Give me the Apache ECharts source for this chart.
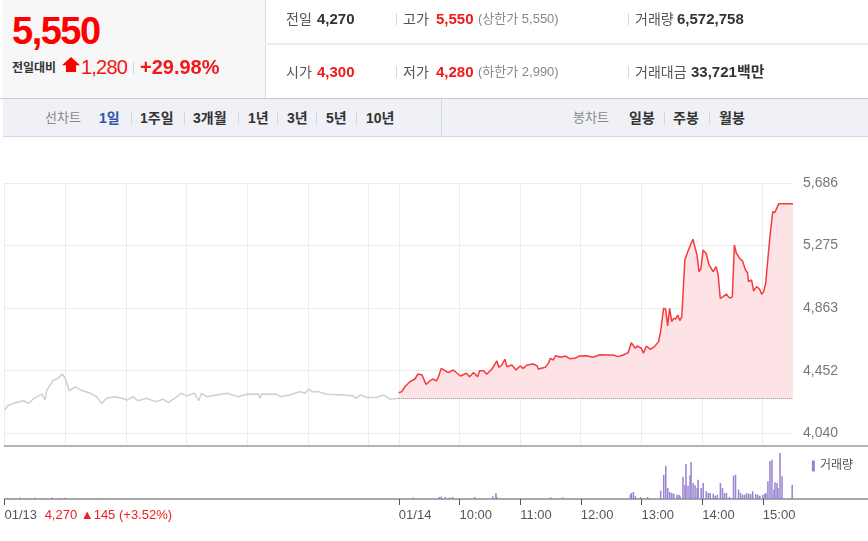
<!DOCTYPE html>
<html>
<head>
<meta charset="utf-8">
<script src="https://cdn.jsdelivr.net/npm/echarts@6/dist/echarts.min.js"></script>
<style>
  body { margin: 0; width: 868px; height: 541px; overflow: hidden; background: #fff;
         font-family: "Liberation Sans", "Noto Sans CJK KR", sans-serif; }
  #chart { position: absolute; left: 0; top: 0; width: 868px; height: 541px; }
  .t { position: absolute; white-space: nowrap; line-height: 20px; }
  .lab { font-size: 14px; color: #555; }
  .val { font-size: 15px; font-weight: bold; color: #333; }
  .red { color: #f01818; }
  .sub { font-size: 13px; color: #888; }
  .sep { position: absolute; width: 1px; background: #d6d6d6; }
  .tab { font-size: 14px; font-weight: bold; color: #333; top: 108px; }
  .tabg { font-size: 13px; color: #888; top: 108px; }
</style>
</head>
<body>
<div id="chart"></div>

<!-- 상단 시세 -->
<div style="position:absolute;left:3px;top:0;width:262px;height:98px;background:#f7f7f7;border-right:1px solid #dcdcdc;"></div>
<div style="position:absolute;left:265px;top:43px;width:603px;height:2px;background:#ebebeb;"></div>
<div style="position:absolute;left:0;top:98px;width:868px;height:1px;background:#c9c9c9;"></div>

<div class="t" style="left:12px;top:12px;line-height:38px;font-size:38px;font-weight:bold;letter-spacing:-1.5px;color:#f00;">5,550</div>
<div class="t" style="left:12px;top:58px;font-size:12px;font-weight:bold;color:#333;">전일대비</div>
<div style="position:absolute;left:62px;top:57px;width:18px;height:15px;background:#f00;clip-path:polygon(50% 0,100% 55%,78% 55%,78% 100%,22% 100%,22% 55%,0 55%);"></div>
<div class="t red" style="left:81px;top:55px;font-size:20px;letter-spacing:-0.8px;line-height:24px;">1,280</div>
<div class="sep" style="left:133px;top:62px;height:12px;"></div>
<div class="t red" style="left:140px;top:55px;font-size:20px;font-weight:bold;line-height:24px;">+29.98%</div>

<div class="t lab" style="left:286px;top:9px;">전일</div>
<div class="t val" style="left:317px;top:9px;">4,270</div>
<div class="sep" style="left:396px;top:13px;height:12px;"></div>
<div class="t lab" style="left:403px;top:9px;">고가</div>
<div class="t val red" style="left:436px;top:9px;">5,550</div>
<div class="t sub" style="left:478px;top:9px;">(상한가 5,550)</div>
<div class="sep" style="left:628px;top:13px;height:12px;"></div>
<div class="t lab" style="left:635px;top:9px;">거래량</div>
<div class="t val" style="left:677px;top:9px;">6,572,758</div>

<div class="t lab" style="left:286px;top:62px;">시가</div>
<div class="t val red" style="left:317px;top:62px;">4,300</div>
<div class="sep" style="left:396px;top:66px;height:12px;"></div>
<div class="t lab" style="left:403px;top:62px;">저가</div>
<div class="t val red" style="left:436px;top:62px;">4,280</div>
<div class="t sub" style="left:478px;top:62px;">(하한가 2,990)</div>
<div class="sep" style="left:628px;top:66px;height:12px;"></div>
<div class="t lab" style="left:635px;top:62px;">거래대금</div>
<div class="t val" style="left:691px;top:62px;">33,721백만</div>

<!-- 탭 -->
<div style="position:absolute;left:3px;top:99px;width:865px;height:37px;background:#eff1f6;border-bottom:1px solid #d5d8e0;"></div>
<div class="sep" style="left:441px;top:99px;height:38px;background:#d5d8e0;"></div>
<div class="t tabg" style="left:45px;">선차트</div>
<div class="t tab" style="left:99px;color:#2f57a8;">1일</div>
<div class="sep" style="left:131px;top:112px;height:12px;"></div>
<div class="t tab" style="left:140px;">1주일</div>
<div class="sep" style="left:184px;top:112px;height:12px;"></div>
<div class="t tab" style="left:193px;">3개월</div>
<div class="sep" style="left:238px;top:112px;height:12px;"></div>
<div class="t tab" style="left:248px;">1년</div>
<div class="sep" style="left:277px;top:112px;height:12px;"></div>
<div class="t tab" style="left:287px;">3년</div>
<div class="sep" style="left:316px;top:112px;height:12px;"></div>
<div class="t tab" style="left:326px;">5년</div>
<div class="sep" style="left:356px;top:112px;height:12px;"></div>
<div class="t tab" style="left:366px;">10년</div>
<div class="t tabg" style="left:573px;">봉차트</div>
<div class="t tab" style="left:629px;">일봉</div>
<div class="sep" style="left:664px;top:112px;height:12px;"></div>
<div class="t tab" style="left:673px;">주봉</div>
<div class="sep" style="left:709px;top:112px;height:12px;"></div>
<div class="t tab" style="left:719px;">월봉</div>

<script>
// 분 단위 인덱스: 0 = 01/13 09:00, 390 = 01/14 09:00, 780 = 01/14 15:30
var day1Minutes = [0,4,9,19,24,29,37,40,42,48,53,57,60,64,70,75,85,91,96,101,109,116,122,127,132,141,149,157,162,167,175,180,188,192,195,200,210,220,231,240,251,253,254,269,273,282,292,297,301,304,310,319,335,345,348,352,358,368,375,381,390];
var day1Prices = [4193,4226,4237,4254,4237,4270,4298,4259,4325,4386,4402,4430,4402,4320,4346,4325,4303,4281,4237,4270,4281,4270,4259,4281,4254,4270,4248,4264,4241,4264,4303,4286,4303,4254,4303,4281,4292,4303,4281,4297,4298,4270,4298,4297,4281,4292,4314,4303,4330,4314,4314,4297,4292,4286,4270,4292,4276,4276,4292,4264,4270];

var day2Minutes = [390,393,396,401,406,409,413,417,421,424,427,429,432,439,444,451,457,460,464,468,470,474,477,482,487,489,492,495,497,502,506,510,513,517,523,527,528,535,538,540,543,545,550,555,559,564,569,576,582,589,596,602,607,612,617,620,624,626,630,632,635,639,643,647,649,652,654,656,658,660,662,664,666,668,670,673,676,681,685,687,689,691,694,697,701,704,706,708,711,714,716,718,720,722,724,728,730,733,735,736,739,741,744,747,749,751,753,757,760,762,766,780];
var day2Prices = [4307,4314,4346,4379,4397,4430,4423,4362,4386,4397,4384,4406,4467,4439,4456,4417,4435,4412,4439,4412,4452,4452,4428,4461,4517,4474,4489,4527,4478,4489,4456,4483,4467,4489,4496,4483,4463,4474,4500,4533,4522,4550,4540,4548,4531,4533,4548,4550,4540,4557,4555,4555,4544,4555,4571,4636,4599,4614,4599,4566,4614,4592,4610,4643,4708,4862,4856,4746,4862,4774,4796,4792,4818,4781,4807,5180,5235,5316,5213,5103,5125,5245,5224,5147,5103,5136,5081,4928,4939,4956,4939,4928,4939,5278,5224,5184,5175,5114,5096,5037,5048,4976,5005,4987,4954,4972,5027,5323,5498,5491,5550,5550];

var volMinutes = [3,8,15,22,30,38,47,55,60,97,404,430,432,436,440,443,465,483,486,487,540,552,619,620,622,624,629,636,649,652,654,656,658,660,662,665,667,668,671,673,674,676,678,679,681,683,685,686,689,691,694,696,698,701,703,705,708,710,712,714,717,718,721,723,726,728,730,732,734,736,738,740,743,745,747,750,752,753,755,757,759,761,762,764,765,767,769,779];
var volValues = [6000,5000,7500,5000,6000,5000,7500,5000,6000,5000,7500,10000,12500,10000,7500,10000,10000,13500,30000,10000,8500,8500,21500,30000,35000,13500,10000,10000,41500,121500,166500,55000,35000,30000,26500,21500,21500,16500,110000,71500,175000,66500,118500,185000,80000,68500,55000,96500,55000,80000,38500,30000,30000,26500,16500,21500,80000,55000,30000,30000,10000,5000,116500,121500,46500,30000,21500,21500,30000,26500,25000,38500,25000,21500,16500,21500,25000,30000,88500,188500,196500,46500,83500,80000,55000,230000,113500,71500];

var prevClose = 4270;
var yTicks = [4040, 4452, 4863, 5275, 5686];
var prevDayNote = '4,270 ▲145 (+3.52%)';

var DAY = 390, LAST = 780, VOL_END = 854;

function pairs(xs, ys) {
  return xs.map(function (x, i) { return [x, ys[i]]; });
}
function idxList(n) {
  var a = [];
  for (var i = 0; i <= n; i++) a.push(String(i));
  return a;
}
function isHourLine(i) {
  if (i < DAY) return i % 60 === 0;
  return (i - DAY) % 60 === 0 && i < LAST;
}
function isBottomTick(i) {
  return i === 0 || (i >= DAY && i < LAST && (i - DAY) % 60 === 0);
}
function bottomLabel(v) {
  var i = +v;
  if (i === 0) return '01/13 {r|' + prevDayNote + '}';
  if (i === DAY) return '01/14';
  var h = 9 + (i - DAY) / 60;
  return (h < 10 ? '0' : '') + h + ':00';
}

var FONT = '"Liberation Sans", "Noto Sans CJK KR", sans-serif';
var chart = echarts.init(document.getElementById('chart'));

chart.setOption({
  animation: false,
  textStyle: { fontFamily: FONT },
  legend: {
    data: ['거래량'], right: 10, top: 455, icon: 'rect',
    itemWidth: 3, itemHeight: 11, itemGap: 4,
    textStyle: { color: '#555', fontSize: 12, fontFamily: FONT }
  },
  grid: [
    { left: 4.5, top: 183, width: 788.5, height: 250.3 },
    { left: 4.5, top: 183, width: 788.5, height: 263 },
    { left: 4.5, top: 446, right: 0, height: 53 }
  ],
  xAxis: [
    { gridIndex: 0, type: 'value', min: 0, max: LAST, show: false },
    { gridIndex: 1, type: 'category', data: idxList(LAST), boundaryGap: false,
      axisLine: { show: false }, axisTick: { show: false }, axisLabel: { show: false },
      splitLine: { show: true, interval: function (i) { return isHourLine(i); },
                   lineStyle: { color: '#ececec', width: 1 } } },
    { gridIndex: 2, type: 'category', data: idxList(VOL_END), boundaryGap: false, position: 'bottom',
      axisLine: { lineStyle: { color: '#8c8c8c', width: 1.5 } },
      axisTick: { interval: function (i) { return isBottomTick(i); }, length: 6,
                  lineStyle: { color: '#555' } },
      axisLabel: { interval: function (i) { return isBottomTick(i); }, align: 'left', margin: 10,
                   color: '#555', fontSize: 13, formatter: bottomLabel,
                   rich: { r: { color: '#f02020', fontSize: 13, padding: [0, 0, 0, 4] } } },
      splitLine: { show: false } },
    { gridIndex: 2, type: 'category', data: idxList(VOL_END), boundaryGap: false, position: 'top',
      axisLine: { lineStyle: { color: '#9a9a9a', width: 1.5 } },
      axisTick: { show: false }, axisLabel: { show: false }, splitLine: { show: false } }
  ],
  yAxis: [
    { gridIndex: 0, type: 'value', position: 'right', min: yTicks[0], max: yTicks[4],
      interval: (yTicks[4] - yTicks[0]) / 4,
      axisLine: { show: false }, axisTick: { show: false },
      axisLabel: { margin: 10, color: '#777', fontSize: 14,
                   formatter: function (v) { return Math.round(v).toLocaleString('en-US'); } },
      splitLine: { lineStyle: { color: '#ececec', width: 1 } } },
    { gridIndex: 1, type: 'value', min: 0, max: 1, show: false },
    { gridIndex: 2, type: 'value', min: 0, max: 265000, show: false }
  ],
  series: [
    { name: '01/13', type: 'line', xAxisIndex: 0, yAxisIndex: 0, data: pairs(day1Minutes, day1Prices),
      symbol: 'none', lineStyle: { color: '#cfcfcf', width: 1.5 }, silent: true },
    { name: '01/14', type: 'line', xAxisIndex: 0, yAxisIndex: 0, data: pairs(day2Minutes, day2Prices),
      symbol: 'none', lineStyle: { color: '#f53b3b', width: 1.5 }, silent: true,
      areaStyle: { color: '#fde3e6', opacity: 1, origin: prevClose },
      markLine: { silent: true, symbol: 'none', label: { show: false },
                  lineStyle: { type: 'dotted', color: '#888', width: 1 },
                  data: [[{ coord: [DAY, prevClose] }, { coord: [LAST, prevClose] }]] } },
    { name: '거래량', type: 'bar', xAxisIndex: 2, yAxisIndex: 2, data: pairs(volMinutes, volValues),
      barWidth: 1.5, itemStyle: { color: '#9882cf' }, silent: true }
  ]
});
</script>
</body>
</html>
